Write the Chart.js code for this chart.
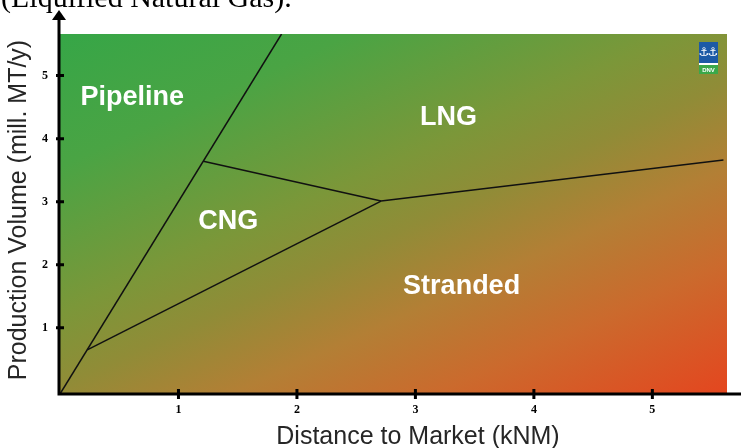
<!DOCTYPE html>
<html>
<head>
<meta charset="utf-8">
<script src="https://cdn.jsdelivr.net/npm/chart.js@4/dist/chart.umd.min.js"></script>
<style>
html,body{margin:0;padding:0;background:#fff;}
#c{display:block;}
</style>
</head>
<body>
<canvas id="c" width="741" height="448"></canvas>
<script>
// ---- data (x: distance to market, kNM; y: production volume, mill. MT/y)
const xTicks = [1, 2, 3, 4, 5];
const yTicks = [1, 2, 3, 4, 5];
const pipelineLimitX = [0, 1.87];
const pipelineLimitY = [-0.05, 5.66];
const cngLowerX = [0.23, 2.71];
const cngLowerY = [0.65, 3.01];
const cngUpperX = [1.21, 2.71];
const cngUpperY = [3.64, 3.01];
const lngLimitX = [2.71, 5.60];
const lngLimitY = [3.01, 3.66];
const regionNames = ['Pipeline', 'LNG', 'CNG', 'Stranded'];
const regionX = [0.61, 3.28, 1.42, 3.39];
const regionY = [4.66, 4.34, 2.68, 1.65];
const xTitle = 'Distance to Market (kNM)';
const yTitle = 'Production Volume (mill. MT/y)';
const topText = '(Liquified Natural Gas).';

function pts(xs, ys) { return xs.map((x, i) => ({x: x, y: ys[i]})); }
const lines = [
  pts(pipelineLimitX, pipelineLimitY),
  pts(cngLowerX, cngLowerY),
  pts(cngUpperX, cngUpperY),
  pts(lngLimitX, lngLimitY)
];

const bgPlugin = {
  id: 'bg',
  beforeDatasetsDraw(chart) {
    const {ctx, chartArea: a} = chart;
    const w = a.right - a.left, h = a.bottom - a.top;
    const da = 1, db = 2.2;
    const s = (w * da + h * db) / (da * da + db * db);
    const g = ctx.createLinearGradient(a.left, a.top, a.left + s * da, a.top + s * db);
    g.addColorStop(0, '#36a647');
    g.addColorStop(0.2, '#4aa444');
    g.addColorStop(0.42, '#7b9739');
    g.addColorStop(0.53, '#908c37');
    g.addColorStop(0.66, '#b37f35');
    g.addColorStop(0.8, '#cb6a2d');
    g.addColorStop(1, '#e4461f');
    ctx.save();
    ctx.fillStyle = g;
    ctx.fillRect(a.left, a.top, w, h);
    ctx.restore();
  }
};

const decoPlugin = {
  id: 'deco',
  afterDraw(chart) {
    const {ctx, chartArea: a, scales: {x, y}} = chart;
    ctx.save();
    // axes
    ctx.strokeStyle = '#000';
    ctx.fillStyle = '#000';
    ctx.lineWidth = 3;
    ctx.beginPath();
    ctx.moveTo(a.left - 1, a.bottom);
    ctx.lineTo(741, a.bottom);
    ctx.moveTo(a.left - 1, a.bottom + 1.5);
    ctx.lineTo(a.left - 1, 18);
    ctx.stroke();
    ctx.beginPath();
    ctx.moveTo(a.left - 1, 10);
    ctx.lineTo(a.left - 8, 20);
    ctx.lineTo(a.left + 6, 20);
    ctx.closePath();
    ctx.fill();
    // tick marks
    ctx.lineWidth = 3;
    ctx.beginPath();
    xTicks.forEach(v => {
      const px = x.getPixelForValue(v);
      ctx.moveTo(px, a.bottom - 5);
      ctx.lineTo(px, a.bottom + 5);
    });
    yTicks.forEach(v => {
      const py = y.getPixelForValue(v);
      ctx.moveTo(a.left - 4, py);
      ctx.lineTo(a.left + 4, py);
    });
    ctx.stroke();
    // region labels
    ctx.fillStyle = '#fff';
    ctx.font = 'bold 27px "Liberation Sans", Arial, sans-serif';
    ctx.textAlign = 'center';
    ctx.textBaseline = 'middle';
    regionNames.forEach((n, i) => {
      ctx.fillText(n, x.getPixelForValue(regionX[i]), y.getPixelForValue(regionY[i]));
    });
    // axis titles
    ctx.fillStyle = '#262626';
    ctx.font = '25px "Liberation Sans", Arial, sans-serif';
    ctx.fillText(xTitle, 418, 437);
    ctx.save();
    ctx.translate(19, 210);
    ctx.rotate(-Math.PI / 2);
    ctx.fillText(yTitle, 0, 0);
    ctx.restore();
    // top text (cut off)
    ctx.fillStyle = '#000';
    ctx.font = '30px "Liberation Serif", "Times New Roman", serif';
    ctx.textAlign = 'left';
    ctx.textBaseline = 'alphabetic';
    ctx.fillText(topText, 1, 7);
    // logo
    ctx.fillStyle = '#1c5aa6';
    ctx.fillRect(699, 42, 19, 21);
    ctx.fillStyle = '#fff';
    ctx.fillRect(699, 63, 19, 2);
    ctx.fillStyle = '#3aa84a';
    ctx.fillRect(699, 65, 19, 9);
    ctx.fillStyle = '#fff';
    ctx.font = 'bold 12px "DejaVu Sans", sans-serif';
    ctx.textAlign = 'center';
    ctx.textBaseline = 'middle';
    ctx.fillText('\u2693', 704, 53);
    ctx.fillText('\u2693', 713, 53);
    ctx.font = 'bold 6px "Liberation Sans", sans-serif';
    ctx.fillText('DNV', 708.5, 70);
    ctx.restore();
  }
};

new Chart(document.getElementById('c'), {
  type: 'scatter',
  data: {
    datasets: lines.map(l => ({
      data: l,
      showLine: true,
      borderColor: '#111',
      borderWidth: 1.5,
      pointRadius: 0,
      fill: false,
      tension: 0
    }))
  },
  options: {
    responsive: false,
    animation: false,
    events: [],
    layout: {padding: {top: 34, right: 14, left: 0, bottom: 0}},
    plugins: {legend: {display: false}, tooltip: {enabled: false}, title: {display: false}},
    scales: {
      x: {
        type: 'linear', min: 0, max: 5.63,
        afterFit: s => { s.height = 54; },
        afterBuildTicks: s => { s.ticks = xTicks.map(v => ({value: v})); },
        grid: {display: false, drawTicks: false},
        border: {display: false},
        ticks: {color: '#000', padding: 9, autoSkip: false, maxRotation: 0,
          font: {family: '"Liberation Serif", "Times New Roman", serif', weight: 'bold', size: 12}}
      },
      y: {
        type: 'linear', min: -0.05, max: 5.66,
        afterFit: s => { s.width = 60; },
        afterBuildTicks: s => { s.ticks = yTicks.map(v => ({value: v})); },
        grid: {display: false, drawTicks: false},
        border: {display: false},
        ticks: {color: '#000', padding: 12, autoSkip: false,
          font: {family: '"Liberation Serif", "Times New Roman", serif', weight: 'bold', size: 12}}
      }
    }
  },
  plugins: [bgPlugin, decoPlugin]
});
</script>
</body>
</html>
